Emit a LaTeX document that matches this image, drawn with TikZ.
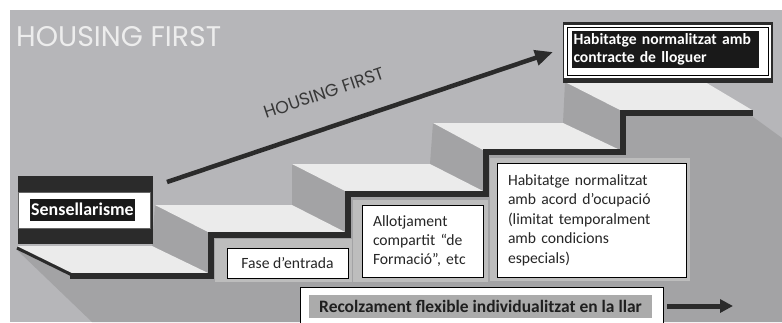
\documentclass[tikz,border=0pt]{standalone}
\usepackage{fontspec}
\setmainfont{Carlito}
\newfontfamily\popfont{Poppins}
\usetikzlibrary{arrows.meta}
\definecolor{panel}{HTML}{B6B6B9}
\definecolor{body}{HTML}{A3A3A5}
\definecolor{tread}{HTML}{EBEBEB}
\definecolor{ink}{HTML}{2B2B2B}
\definecolor{halo}{HTML}{BDBDBD}
\definecolor{hilite}{HTML}{ABABAB}
\tikzset{
  treadface/.style={fill=tread, draw=none},
  stairline/.style={draw=ink, line width=6bp, line join=miter},
  infobox/.style={draw=black, line width=0.8bp, fill=white, inner xsep=11bp, inner ysep=0bp, align=left,
     font=\fontsize{15.7}{19.5}\selectfont, text=black!85},
  darkbar/.style={fill=ink, draw=none, inner sep=0pt},
  whitetag/.style={fill=black!90, text=white, inner sep=0pt, font=\bfseries\fontsize{15.7}{18.5}\selectfont, align=left},
}
\begin{document}
\begin{tikzpicture}[x=1bp, y=-1bp]
\useasboundingbox (0,0) rectangle (782,322);
\clip (0,0) rectangle (782,322);
\fill[white] (0,0) rectangle (782,322);
\fill[panel] (10,10) rectangle (782,322);
% stair body
\fill[body] (17,250) -- (92,322) -- (782,322) -- (782,138) -- (705,82) -- (565,82) -- (563,123) -- (433,123)
  -- (430,164) -- (292,164) -- (292,205) -- (155,205) -- (152,246) -- (17,246) -- cycle;
% treads
\fill[treadface] (17,246) -- (152,246) -- (208,273) -- (72,273) -- cycle;
\fill[treadface] (155,205) -- (292,205) -- (345,232) -- (208,232) -- cycle;
\fill[treadface] (292,164) -- (430,164) -- (483,191) -- (345,191) -- cycle;
\fill[treadface] (433,123) -- (563,123) -- (620,150) -- (483,150) -- cycle;
\fill[treadface] (565,82) -- (705,82) -- (752,110) -- (620,110) -- cycle;
% stair edge line
\draw[ink, line width=3bp] (17,248) -- (72,275);
\draw[stairline] (70,276) -- (211,276) -- (211,235) -- (348,235) -- (348,194) -- (486,194) -- (486,152)
  -- (623,152) -- (623,113) -- (753,113);
% title
\node[anchor=base west, inner sep=0pt, text=white!93!black, font=\popfont\fontsize{28.5}{28.5}\selectfont] (title) at (16,46) {HOUSING FIRST};
% main arrow
\coordinate (hfstart) at (167,182);
\coordinate (hfend) at (553,52);
\draw[ink, line width=4.5bp, -{Triangle[length=18bp, width=15bp]}] (hfstart) -- (hfend);
\node[anchor=base west, inner sep=0pt, rotate=18.7, text=black!78, font=\popfont\fontsize{17.5}{17.5}\selectfont] (hflabel) at (266,119) {HOUSING FIRST};
% Sensellarisme
\node[darkbar, minimum width=135bp, minimum height=68bp] (sensdark) at (85.5,210) {};
\node[fill=white, draw=black!60, line width=0.8bp, minimum width=132bp, minimum height=36bp, inner sep=0pt] (senswhite) at (84,210) {};
\node[whitetag, minimum height=22bp, inner xsep=1bp, font=\bfseries\fontsize{18}{19}\selectfont] (sens) at (82.5,209.5) {Sensellarisme};
% top box
\node[darkbar, minimum width=210bp, minimum height=61bp] (topdark) at (668,52.5) {};
\node[fill=white, draw=none, minimum width=207bp, minimum height=53bp, inner sep=0pt] (topwhite) at (667.5,51.5) {};
\node[draw=black, line width=0.8bp, minimum width=201bp, minimum height=48bp, inner sep=0pt] (topframe) at (667.5,51.5) {};
\node[whitetag, minimum width=187bp, minimum height=37bp, text width=184bp, inner xsep=1.5bp] (toptag) at (665.5,49.5) {Habitatge normalitzat amb\\contracte de lloguer};
% halos
\fill[halo] (215,239) rectangle (352,282);
\fill[halo] (353,200) rectangle (488,282);
\fill[halo] (490,158) rectangle (690,281);
% lower boxes
\node[infobox, minimum width=121bp, minimum height=30bp, align=center, inner xsep=0pt] (fase) at (287.5,263) {Fase d’entrada};
\node[infobox, minimum width=121bp, minimum height=72bp, text width=99bp] (allot) at (422.5,241) {Allotjament\\compartit “de\\Formació”, etc};
\node[infobox, minimum width=189bp, minimum height=114bp, text width=167bp] (habit) at (591.5,220) {Habitatge normalitzat\\amb acord d’ocupació\\(limitat temporalment\\amb condicions\\especials)};
% Recolzament
\node[draw=black, line width=0.8bp, fill=white, minimum width=363bp, minimum height=38bp, inner sep=0pt] (recolbox) at (481.5,306) {};
\node[fill=hilite, text=black!88, inner sep=0pt, minimum width=343bp, minimum height=23bp, font=\bfseries\fontsize{17.5}{19}\selectfont] (recol) at (480.5,306.5) {Recolzament flexible individualitzat en la llar};
\coordinate (recolend) at (733,306);
\draw[ink, line width=5bp, -{Triangle[length=13bp, width=13bp]}] ([xshift=4bp]recolbox.east |- recolend) -- (recolend);
\end{tikzpicture}
\end{document}
